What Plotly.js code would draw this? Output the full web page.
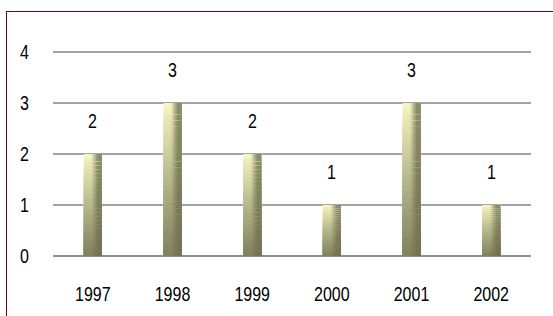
<!DOCTYPE html>
<html>
<head>
<meta charset="utf-8">
<script src="https://cdn.plot.ly/plotly-3.0.1.min.js"></script>
<style>
  html, body { margin:0; padding:0; width:553px; height:316px; overflow:hidden; background:#fff; }
  #frame { position:absolute; left:6px; top:11px; width:700px; height:500px; border-left:1px solid #5a0a30; border-top:1px solid #5a0a30; }
  #chart { position:absolute; left:0; top:0; width:553px; height:316px; }
</style>
</head>
<body>
<div id="frame"></div>
<div id="chart"></div>
<script>
const years = ['1997', '1998', '1999', '2000', '2001', '2002'];
const counts = [2, 3, 2, 1, 3, 1];
const yTicks = [0, 1, 2, 3, 4];

const BAR_W = 0.226;
const NX = 12, NY = 26;
const light = [248, 248, 196], dark = [112, 112, 80];
function mix(t) {
  return 'rgb(' + light.map((c, i) => Math.round(c + (dark[i] - c) * t)).join(',') + ')';
}
// each piece spans from the bar's bottom up to its band top and from its strip to the bar's right edge;
// later pieces are painted over earlier ones, so there are no seams.
const traces = [];
for (let j = 0; j < NY; j++) {
  const depth = (j + 0.5) / NY;
  const ty = Math.pow(depth, 0.9);
  for (let k = 0; k < NX; k++) {
    const xf = (k + 0.5) / NX;
    const tx = Math.min(1, Math.max(0, (xf - 0.42) / 0.35));
    const t = 1 - (1 - tx * 0.78) * (1 - ty * 0.88);
    traces.push({
      type: 'bar',
      x: years,
      y: counts.map(v => v * (NY - j) / NY),
      width: years.map(() => BAR_W * (NX - k) / NX),
      offset: years.map(() => -BAR_W / 2 + k * BAR_W / NX),
      marker: { color: mix(t), line: { width: 0 } },
      hoverinfo: 'skip',
      showlegend: false
    });
  }
}

const FONT = 'Liberation Sans, Arial, sans-serif';
const annotations = years.map((yr, i) => ({
  x: i, y: counts[i], xref: 'x', yref: 'y',
  text: String(counts[i]), showarrow: false,
  yshift: 33,
  font: { family: FONT, size: 20, color: '#000' }
}));

const layout = {
  width: 553, height: 316,
  margin: { l: 53, r: 22, t: 51, b: 60 },
  paper_bgcolor: 'rgba(0,0,0,0)',
  plot_bgcolor: 'rgba(0,0,0,0)',
  barmode: 'overlay',
  font: { family: FONT, size: 20, color: '#000' },
  xaxis: {
    type: 'category',
    categoryorder: 'array',
    categoryarray: years,
    range: [-0.5, years.length - 0.5],
    showgrid: false, showline: false, zeroline: false,
    ticks: 'outside', ticklen: 20, tickcolor: 'rgba(0,0,0,0)',
    fixedrange: true
  },
  yaxis: {
    range: [0, 4.02],
    tickvals: yTicks,
    ticktext: yTicks.map(String),
    showgrid: true, gridcolor: '#a4a4a4', gridwidth: 2,
    zeroline: true, zerolinecolor: '#8e8e8e', zerolinewidth: 2,
    showline: false,
    ticks: 'outside', ticklen: 19, tickcolor: 'rgba(0,0,0,0)',
    fixedrange: true
  },
  annotations: annotations
};

const SX = 0.8;
function narrow() {
  document.querySelectorAll('#chart .xtick text, #chart .ytick text, #chart .annotation-text').forEach(el => {
    if (el.dataset.narrow) return;
    el.dataset.narrow = '1';
    const x = parseFloat(el.getAttribute('x') || '0');
    el.setAttribute('x', x / SX);
    const tr = el.getAttribute('transform') || '';
    el.setAttribute('transform', (tr + ' scale(' + SX + ',1)').trim());
  });
}
Plotly.newPlot('chart', traces, layout, { displayModeBar: false, staticPlot: true }).then(narrow);
</script>
</body>
</html>
